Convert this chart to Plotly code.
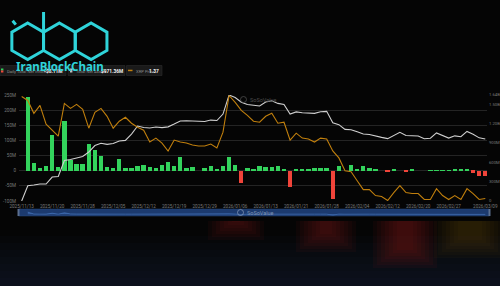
import math
import plotly.graph_objects as go

# ---------------- data ----------------
dates = [
    "2025/11/13", "2025/11/14", "2025/11/17", "2025/11/18", "2025/11/19", "2025/11/20", "2025/11/21",
    "2025/11/24", "2025/11/25", "2025/11/26", "2025/11/28",
    "2025/12/01", "2025/12/02", "2025/12/03", "2025/12/04", "2025/12/05",
    "2025/12/08", "2025/12/09", "2025/12/10", "2025/12/11", "2025/12/12",
    "2025/12/15", "2025/12/16", "2025/12/17", "2025/12/18", "2025/12/19",
    "2025/12/22", "2025/12/23", "2025/12/24", "2025/12/26", "2025/12/29", "2025/12/30", "2025/12/31",
    "2026/01/02", "2026/01/05", "2026/01/06", "2026/01/07", "2026/01/08", "2026/01/09",
    "2026/01/12", "2026/01/13", "2026/01/14", "2026/01/15", "2026/01/16",
    "2026/01/20", "2026/01/21", "2026/01/22", "2026/01/23", "2026/01/26", "2026/01/27", "2026/01/28",
    "2026/01/29", "2026/01/30",
    "2026/02/02", "2026/02/03", "2026/02/04", "2026/02/05", "2026/02/06", "2026/02/09", "2026/02/10",
    "2026/02/12", "2026/02/13", "2026/02/17", "2026/02/18", "2026/02/19", "2026/02/20",
    "2026/02/23", "2026/02/24", "2026/02/25", "2026/02/26", "2026/02/27",
    "2026/03/02", "2026/03/03", "2026/03/04", "2026/03/05", "2026/03/06", "2026/03/09",
]

# daily total net inflow (million USD)
net_inflow = [
    None, 242, 25, 9, 16, 117, 12, 163, 36, 21, 22,
    89, 67, 50, 13, 10, 38, 10, 10, 16, 20,
    11, 9, 19, 30, 14, 44, 9, 12, 0, 8,
    16, 7, 14, 45, 20, -40, 10, 6, 15, 13,
    11, 16, 4, -54, 7, 3, 4, 9, 10, 8,
    -93, 16, 0, 20, 7, 16, 8, 4, 0, -5,
    4, 0, -2, 3, 0, 0, 2, 2, 2, 2,
    5, 5, 3, -6, -16, -18,
]

# total net assets (million USD)
total_net_assets = [
    0, 237, 247, 263, 263, 371, 379, 626, 642, 665,
    688, 758, 858, 894, 877, 889, 928, 938, 1036, 1160,
    1136, 1129, 1144, 1135, 1147, 1190, 1237, 1241, 1234, 1228,
    1231, 1252, 1245, 1345, 1639, 1602, 1527, 1492, 1476, 1469,
    1531, 1551, 1510, 1492, 1345, 1379, 1365, 1356, 1356, 1381,
    1387, 1211, 1181, 1108, 1103, 1070, 1036, 1030, 1003, 985,
    965, 1008, 1062, 1014, 1005, 1005, 963, 971, 1053, 1011,
    974, 1008, 994, 1076, 1033, 977, 959,
]

# XRP price (USD)
xrp_price = [
    2.40, 2.36, 2.23, 2.31, 2.12, 2.06, 2.00, 2.33, 2.28, 2.32,
    2.27, 2.08, 2.24, 2.28, 2.20, 2.08, 2.15, 2.19, 2.13, 2.09,
    2.06, 1.94, 1.98, 1.93, 1.85, 1.96, 1.94, 1.93, 1.91, 1.90,
    1.90, 1.92, 1.88, 2.04, 2.41, 2.34, 2.26, 2.21, 2.15, 2.14,
    2.20, 2.23, 2.13, 2.14, 1.96, 2.03, 1.98, 1.97, 1.94, 1.98,
    1.97, 1.85, 1.78, 1.65, 1.64, 1.55, 1.46, 1.46, 1.40, 1.39,
    1.35, 1.43, 1.50, 1.43, 1.42, 1.42, 1.36, 1.36, 1.47, 1.40,
    1.36, 1.40, 1.36, 1.47, 1.42, 1.36, 1.37,
]

x_tick_idx = [0, 5, 10, 15, 20, 25, 30, 35, 40, 45, 50, 55, 60, 65, 70, 76]
x_tick_labels = [dates[i] for i in x_tick_idx]

left_tickvals = [-100, -50, 0, 50, 100, 150, 200, 250]
left_ticktext = ["-100M", "-50M", "0", "50M", "100M", "150M", "200M", "250M"]
right_tickvals = [0, 300, 600, 900, 1200, 1500, 1640]
right_ticktext = ["0", "300M", "600M", "900M", "1.20B", "1.50B", "1.64B"]

legend_inflow_value = "-$8.11M"
legend_assets_value = "$971.36M"
legend_price_value = "1.37"

# ---------------- layout geometry ----------------
W_FIG, H_FIG = 500, 286
ML, MR, MT, MB = 19, 13, 95, 68
PW = W_FIG - ML - MR
PH = H_FIG - MT - MB


def X(px):
    return (px - ML) / PW


def Y(py):
    return (H_FIG - MB - py) / PH


GREEN = "#33d35c"
RED = "#f0443a"
WHITE_LINE = "#cfcfcf"
ORANGE = "#c07f0d"
CYAN = "#2fd4da"
TICK = "#7a7a7a"
GRID = "#242424"

bar_colors = [GREEN if (v is not None and v >= 0) else RED for v in net_inflow]

fig = go.Figure()
fig.add_trace(go.Bar(x=dates, y=net_inflow, marker=dict(color=bar_colors, line=dict(width=0)),
                     width=0.72, xaxis="x", yaxis="y", name="Daily Total Net Inflow"))
fig.add_trace(go.Scatter(x=dates, y=total_net_assets, mode="lines",
                         line=dict(color=WHITE_LINE, width=1.1), xaxis="x", yaxis="y2",
                         name="Total Net Assets"))
fig.add_trace(go.Scatter(x=dates, y=xrp_price, mode="lines",
                         line=dict(color=ORANGE, width=1.1), xaxis="x", yaxis="y3",
                         name="XRP Price"))
# data-zoom preview
fig.add_trace(go.Scatter(x=dates, y=net_inflow, mode="lines", fill="tozeroy",
                         line=dict(color="#4a7cc4", width=0.6), fillcolor="rgba(70,115,190,0.55)",
                         xaxis="x2", yaxis="y4", connectgaps=True, hoverinfo="skip"))

xr = [-0.44, 76.28]
main_dom = [Y(201), 1]

fig.update_layout(
    template="none",
    width=W_FIG, height=H_FIG,
    margin=dict(l=ML, r=MR, t=MT, b=MB, pad=0, autoexpand=False),
    paper_bgcolor="#050505", plot_bgcolor="rgba(0,0,0,0)",
    showlegend=False, bargap=0,
    font=dict(family="Roboto, sans-serif", color=TICK, size=5),
    xaxis=dict(type="category", range=xr, tickmode="array", tickvals=x_tick_labels,
               ticktext=x_tick_labels, showgrid=False, zeroline=False, showline=False,
               ticks="", tickfont=dict(size=4.6, color=TICK), anchor="y",
               ticklabelstandoff=1, tickangle=0, automargin=False),
    yaxis=dict(domain=main_dom, range=[-100, 250], tickmode="array", tickvals=left_tickvals,
               ticktext=left_ticktext, showgrid=True, gridcolor=GRID, gridwidth=1,
               zeroline=True, zerolinecolor=GRID, zerolinewidth=1, showline=False,
               ticks="", tickfont=dict(size=4.6, color=TICK), ticklabelstandoff=2,
               automargin=False),
    yaxis2=dict(overlaying="y", side="right", range=[0, 1640], tickmode="array",
                tickvals=right_tickvals, ticktext=right_ticktext, showgrid=False,
                zeroline=False, showline=False, ticks="",
                tickfont=dict(size=4.2, color=TICK), ticklabelstandoff=1, automargin=False),
    yaxis3=dict(overlaying="y", range=[1.345, 2.415], visible=False, automargin=False),
    xaxis2=dict(type="category", range=xr, visible=False, anchor="y4", automargin=False),
    yaxis4=dict(domain=[Y(216), Y(209)], range=[-200, 600], visible=False, automargin=False),
)

shapes = []


def rect(x0, y0, x1, y1, fill, line=None, lw=0, layer="below", opacity=1.0):
    d = dict(type="rect", xref="paper", yref="paper", x0=X(x0), x1=X(x1), y0=Y(y1), y1=Y(y0),
             fillcolor=fill, opacity=opacity, layer=layer,
             line=dict(color=line or "rgba(0,0,0,0)", width=lw))
    shapes.append(d)


# background blur tints (soft, layered)
for i in range(7):
    rect(0, 236 + i * 7, 500, 286, "rgb(24,40,70)", opacity=0.08)
for cx, top, bot, hw, col in [
    (236, 221, 240, 28, "rgb(130,25,25)"),
    (326, 221, 252, 30, "rgb(140,25,25)"),
    (405, 221, 268, 32, "rgb(150,28,28)"),
    (470, 221, 258, 36, "rgb(95,70,20)"),
]:
    for k in range(7):
        rect(cx - hw + k * 4, top, cx + hw - k * 4, bot - k * 3, col, opacity=0.075)

# data-zoom slider
rect(18.5, 209, 489.5, 216, "#1c3a6e", line="#2b4c80", lw=0.5)
rect(17.5, 209, 19.5, 216, "#5b6f8f", layer="above")
rect(488.5, 209, 490.5, 216, "#5b6f8f", layer="above")

# legend boxes
rect(0, 65.5, 66, 75.5, "#1a1a1a", line="#2c2c2c", lw=0.6, layer="above")
rect(68, 65.5, 125, 75.5, "#1a1a1a", line="#2c2c2c", lw=0.6, layer="above")
rect(126.5, 65.5, 162, 75.5, "#1a1a1a", line="#2c2c2c", lw=0.6, layer="above")
rect(1, 68.5, 3.4, 70.5, GREEN, layer="above")
rect(1, 70.5, 3.4, 72.5, RED, layer="above")
rect(70, 68.5, 72.4, 72.5, "#bdbdbd", layer="above")
rect(128, 69.7, 132.5, 71.2, ORANGE, layer="above")


# logo hexagons
def hex_pts(cx, cy, r):
    pts = []
    for k in range(6):
        ang = math.radians(90 - 60 * k)
        pts.append((cx + r * math.cos(ang), cy - r * math.sin(ang)))
    return pts


def hex_path(cx, cy, r):
    pts = hex_pts(cx, cy, r)
    p = " L ".join(f"{X(a):.5f},{Y(b):.5f}" for a, b in pts)
    return "M " + p + " Z"


r = 18.3
cy = 41.3
for cx in (27.7, 59.4, 91.1):
    shapes.append(dict(type="path", xref="paper", yref="paper", path=hex_path(cx, cy, r),
                       layer="above", line=dict(color=CYAN, width=3)))
pts2 = hex_pts(59.4, cy, r)
shapes.append(dict(type="line", xref="paper", yref="paper", x0=X(pts2[5][0]), y0=Y(pts2[5][1]),
                   x1=X(pts2[5][0]), y1=Y(12), line=dict(color=CYAN, width=3), layer="above"))
shapes.append(dict(type="line", xref="paper", yref="paper", x0=X(12.6), y0=Y(20.8),
                   x1=X(15.8), y1=Y(24.6), line=dict(color=CYAN, width=3), layer="above"))

# watermark icons
shapes.append(dict(type="circle", xref="paper", yref="paper", x0=X(240.5), x1=X(246.5), y0=Y(102.5),
                   y1=Y(96.5), line=dict(color="#4e4e4e", width=0.8), layer="above"))
shapes.append(dict(type="circle", xref="paper", yref="paper", x0=X(237.5), x1=X(243.5), y0=Y(215.5),
                   y1=Y(209.5), line=dict(color="#7f93b3", width=0.8), layer="above"))
fig.update_layout(shapes=shapes)

ann = []


def txt(x, y, s, size, color, anchor="left", bold=False, family="Roboto, sans-serif"):
    ann.append(dict(xref="paper", yref="paper", x=X(x), y=Y(y), text=(f"<b>{s}</b>" if bold else s),
                    showarrow=False, xanchor=anchor, yanchor="middle",
                    font=dict(size=size, color=color, family=family)))


txt(4.5, 71.2, "Daily Total Net Inflow", 4.2, "#8a8a8a")
txt(65, 71.2, legend_inflow_value, 4.8, "#f2f2f2", anchor="right", bold=True)
txt(73.5, 71.2, "Total Net Assets", 4.2, "#8a8a8a")
txt(124.5, 71.2, legend_assets_value, 4.8, "#f2f2f2", anchor="right", bold=True)
txt(133.5, 71.2, "XRP Price", 4.2, "#8a8a8a")
txt(161, 71.2, legend_price_value, 4.8, "#f2f2f2", anchor="right", bold=True)

# watermarks
txt(248, 99.5, "SoSoValue", 5.5, "#4e4e4e")
txt(245, 212.5, "SoSoValue", 5.5, "#7f93b3")

# logo text (on top of the legend)
txt(60, 66.3, "IranBlockChain", 11.5, CYAN, anchor="center", bold=True, family="Noto Sans, sans-serif")

fig.update_layout(annotations=ann)
fig.write_html("out.html")
